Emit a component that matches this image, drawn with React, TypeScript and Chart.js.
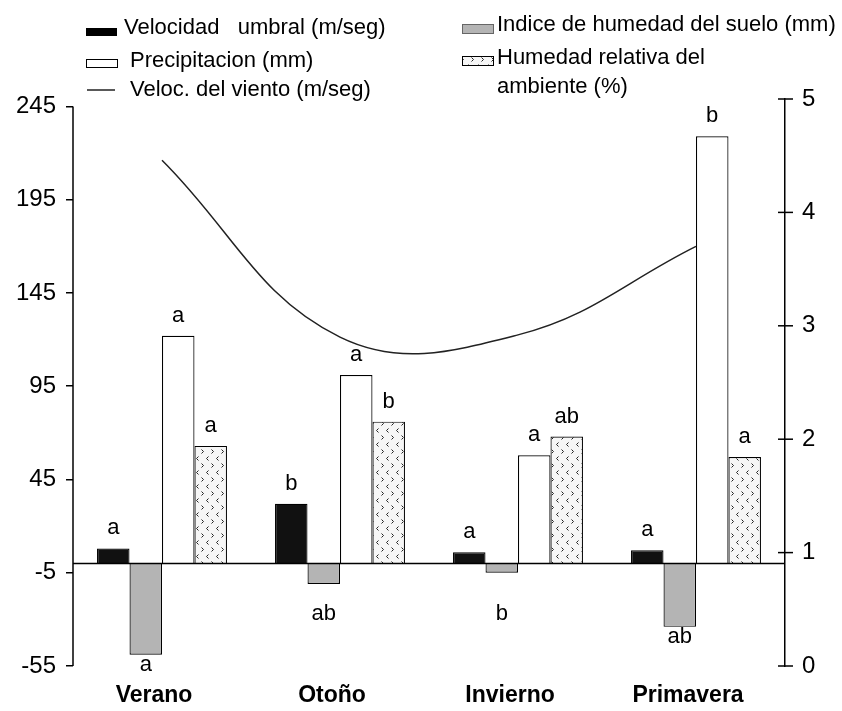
import React, { useEffect, useRef } from "react";
import { Chart, registerables } from "chart.js";

Chart.register(...registerables);

const categories = ["Verano", "Otoño", "Invierno", "Primavera"];
const velocidadUmbral = [8, 32, 6, 7];
const indiceHumedadSuelo = [-49, -11, -5, -34];
const precipitacion = [122, 101, 58, 229];
const humedadRelativa = [63, 76, 68, 57];
const velocidadViento = [4.46, 2.9, 2.92, 3.7];

const leftTicks = [-55, -5, 45, 95, 145, 195, 245];
const rightTicks = [0, 1, 2, 3, 4, 5];

const lettersUmbral = ["a", "b", "a", "a"];
const lettersSuelo = ["a", "ab", "b", "ab"];
const lettersPrecip = ["a", "a", "a", "b"];
const lettersHumedad = ["a", "b", "ab", "a"];

const barSeries = [velocidadUmbral, indiceHumedadSuelo, precipitacion, humedadRelativa];
const barLetters = [lettersUmbral, lettersSuelo, lettersPrecip, lettersHumedad];

const FONT = "'Liberation Sans', Arial, Helvetica, sans-serif";
const GRAY = "#b4b4b4";

function makePattern(ctx: CanvasRenderingContext2D): CanvasPattern | string {
  const c = document.createElement("canvas");
  c.width = 10;
  c.height = 14;
  const p = c.getContext("2d");
  if (!p) return "#fff";
  p.fillStyle = "#f6f6f6";
  p.fillRect(0, 0, 10, 14);
  p.strokeStyle = "#222";
  p.lineWidth = 1;
  p.beginPath();
  p.moveTo(1.5, 1.5);
  p.lineTo(3.5, 3.5);
  p.lineTo(1.5, 5.5);
  p.moveTo(8.5, 8.5);
  p.lineTo(6.5, 10.5);
  p.lineTo(8.5, 12.5);
  p.stroke();
  return ctx.createPattern(c, "repeat") || "#fff";
}

export default function App() {
  const ref = useRef<HTMLCanvasElement | null>(null);

  useEffect(() => {
    const canvas = ref.current;
    if (!canvas) return;
    const ctx0 = canvas.getContext("2d")!;
    const pattern = makePattern(ctx0);

    const annotate = {
      id: "annotate",
      afterDatasetsDraw(chart: any) {
        const ctx = chart.ctx as CanvasRenderingContext2D;
        const { left, right } = chart.chartArea;
        const y = chart.scales.y;
        const y1 = chart.scales.y1;
        ctx.save();
        ctx.strokeStyle = "#000";
        ctx.lineWidth = 1.5;
        // zero line
        const y0 = y.getPixelForValue(0);
        ctx.beginPath();
        ctx.moveTo(left, y0);
        ctx.lineTo(right, y0);
        ctx.stroke();
        // left axis line
        ctx.beginPath();
        ctx.moveTo(left, y.getPixelForValue(leftTicks[0]));
        ctx.lineTo(left, y.getPixelForValue(leftTicks[leftTicks.length - 1]));
        ctx.stroke();
        // right ticks crossing
        rightTicks.forEach((v) => {
          const py = y1.getPixelForValue(v);
          ctx.beginPath();
          ctx.moveTo(right - 7, py);
          ctx.lineTo(right + 8, py);
          ctx.stroke();
        });
        // letters
        ctx.font = "22px " + FONT;
        ctx.fillStyle = "#000";
        ctx.textAlign = "center";
        ctx.textBaseline = "alphabetic";
        barSeries.forEach((vals, di) => {
          const meta = chart.getDatasetMeta(di);
          vals.forEach((v, j) => {
            const el = meta.data[j];
            let by: number;
            if (v >= 0) by = el.y - 14;
            else by = y.getPixelForValue(Math.min(v, -22)) + 16;
            ctx.fillText(barLetters[di][j], el.x, by);
          });
        });
        // legend swatches
        ctx.lineWidth = 1;
        ctx.fillStyle = "#000";
        ctx.fillRect(86, 28, 31, 8);
        ctx.fillStyle = "#fff";
        ctx.fillRect(86.5, 59.5, 31, 8);
        ctx.strokeRect(86.5, 59.5, 31, 8);
        ctx.lineWidth = 1.5;
        ctx.strokeStyle = "#222";
        ctx.beginPath();
        ctx.moveTo(87, 90);
        ctx.lineTo(115, 90);
        ctx.stroke();
        ctx.lineWidth = 1;
        ctx.strokeStyle = "#666";
        ctx.fillStyle = GRAY;
        ctx.fillRect(462.5, 24.5, 31, 9);
        ctx.strokeRect(462.5, 24.5, 31, 9);
        ctx.fillStyle = pattern as any;
        ctx.fillRect(462.5, 56.5, 31, 9);
        ctx.strokeStyle = "#000";
        ctx.strokeRect(462.5, 56.5, 31, 9);
        ctx.restore();
      },
    };

    const barCommon = {
      type: "bar" as const,
      borderColor: "#000",
      borderWidth: 1.2,
      categoryPercentage: 0.73,
      barPercentage: 1.0,
      yAxisID: "y",
      order: 1,
    };

    const chart = new Chart(canvas, {
      type: "bar",
      data: {
        labels: categories,
        datasets: [
          { ...barCommon, label: "Velocidad umbral (m/seg)", data: velocidadUmbral, backgroundColor: "#111" },
          { ...barCommon, label: "Indice de humedad del suelo (mm)", data: indiceHumedadSuelo, backgroundColor: GRAY },
          { ...barCommon, label: "Precipitacion (mm)", data: precipitacion, backgroundColor: "#fff" },
          { ...barCommon, label: "Humedad relativa del ambiente (%)", data: humedadRelativa, backgroundColor: pattern as any },
          {
            type: "line" as const,
            label: "Veloc. del viento (m/seg)",
            data: velocidadViento,
            yAxisID: "y1",
            borderColor: "#222",
            borderWidth: 1.5,
            pointRadius: 0,
            tension: 0.4,
            fill: false,
            order: 0,
          } as any,
        ],
      },
      options: {
        animation: false,
        responsive: false,
        layout: { padding: { top: 99, left: 0, right: 0, bottom: 0 } },
        plugins: { legend: { display: false }, tooltip: { enabled: false } },
        scales: {
          x: {
            offset: true,
            grid: { display: false, drawTicks: false },
            border: { display: false },
            ticks: {
              color: "#000",
              font: { family: FONT, size: 23, weight: "bold" },
              padding: 16,
              labelOffset: -8,
            },
            afterFit: (s: any) => {
              s.height = 45;
            },
          },
          y: {
            position: "left",
            min: -55,
            max: 249,
            afterBuildTicks: (axis: any) => {
              axis.ticks = leftTicks.map((v) => ({ value: v }));
            },
            grid: { drawOnChartArea: false, drawTicks: true, tickLength: 7, color: "#000", lineWidth: 1.5 },
            border: { display: false },
            ticks: { color: "#000", font: { family: FONT, size: 24 }, padding: 10 },
            afterFit: (s: any) => {
              s.width = 73;
            },
          },
          y1: {
            position: "right",
            min: 0,
            max: 5,
            afterBuildTicks: (axis: any) => {
              axis.ticks = rightTicks.map((v) => ({ value: v }));
            },
            grid: { display: false, drawTicks: false },
            border: { display: true, color: "#000", width: 1.5 },
            ticks: { color: "#000", font: { family: FONT, size: 24 }, padding: 17 },
            afterFit: (s: any) => {
              s.width = 57;
            },
          },
        },
      } as any,
      plugins: [annotate],
    });

    return () => chart.destroy();
  }, []);

  const txt: React.CSSProperties = {
    position: "absolute",
    fontFamily: FONT,
    fontSize: 22,
    lineHeight: "22px",
    color: "#000",
    whiteSpace: "pre",
    margin: 0,
  };

  return (
    <div style={{ position: "absolute", left: 0, top: 0, width: 842, height: 711, background: "#fff" }}>
      <canvas ref={ref} width={842} height={711} style={{ width: 842, height: 711, display: "block" }} />
      <div style={{ ...txt, left: 124, top: 16 }}>Velocidad   umbral (m/seg)</div>
      <div style={{ ...txt, left: 130, top: 49 }}>Precipitacion (mm)</div>
      <div style={{ ...txt, left: 130, top: 78 }}>Veloc. del viento (m/seg)</div>
      <div style={{ ...txt, left: 497, top: 13 }}>Indice de humedad del suelo (mm)</div>
      <div style={{ ...txt, left: 497, top: 46 }}>Humedad relativa del</div>
      <div style={{ ...txt, left: 497, top: 75 }}>ambiente (%)</div>
    </div>
  );
}
